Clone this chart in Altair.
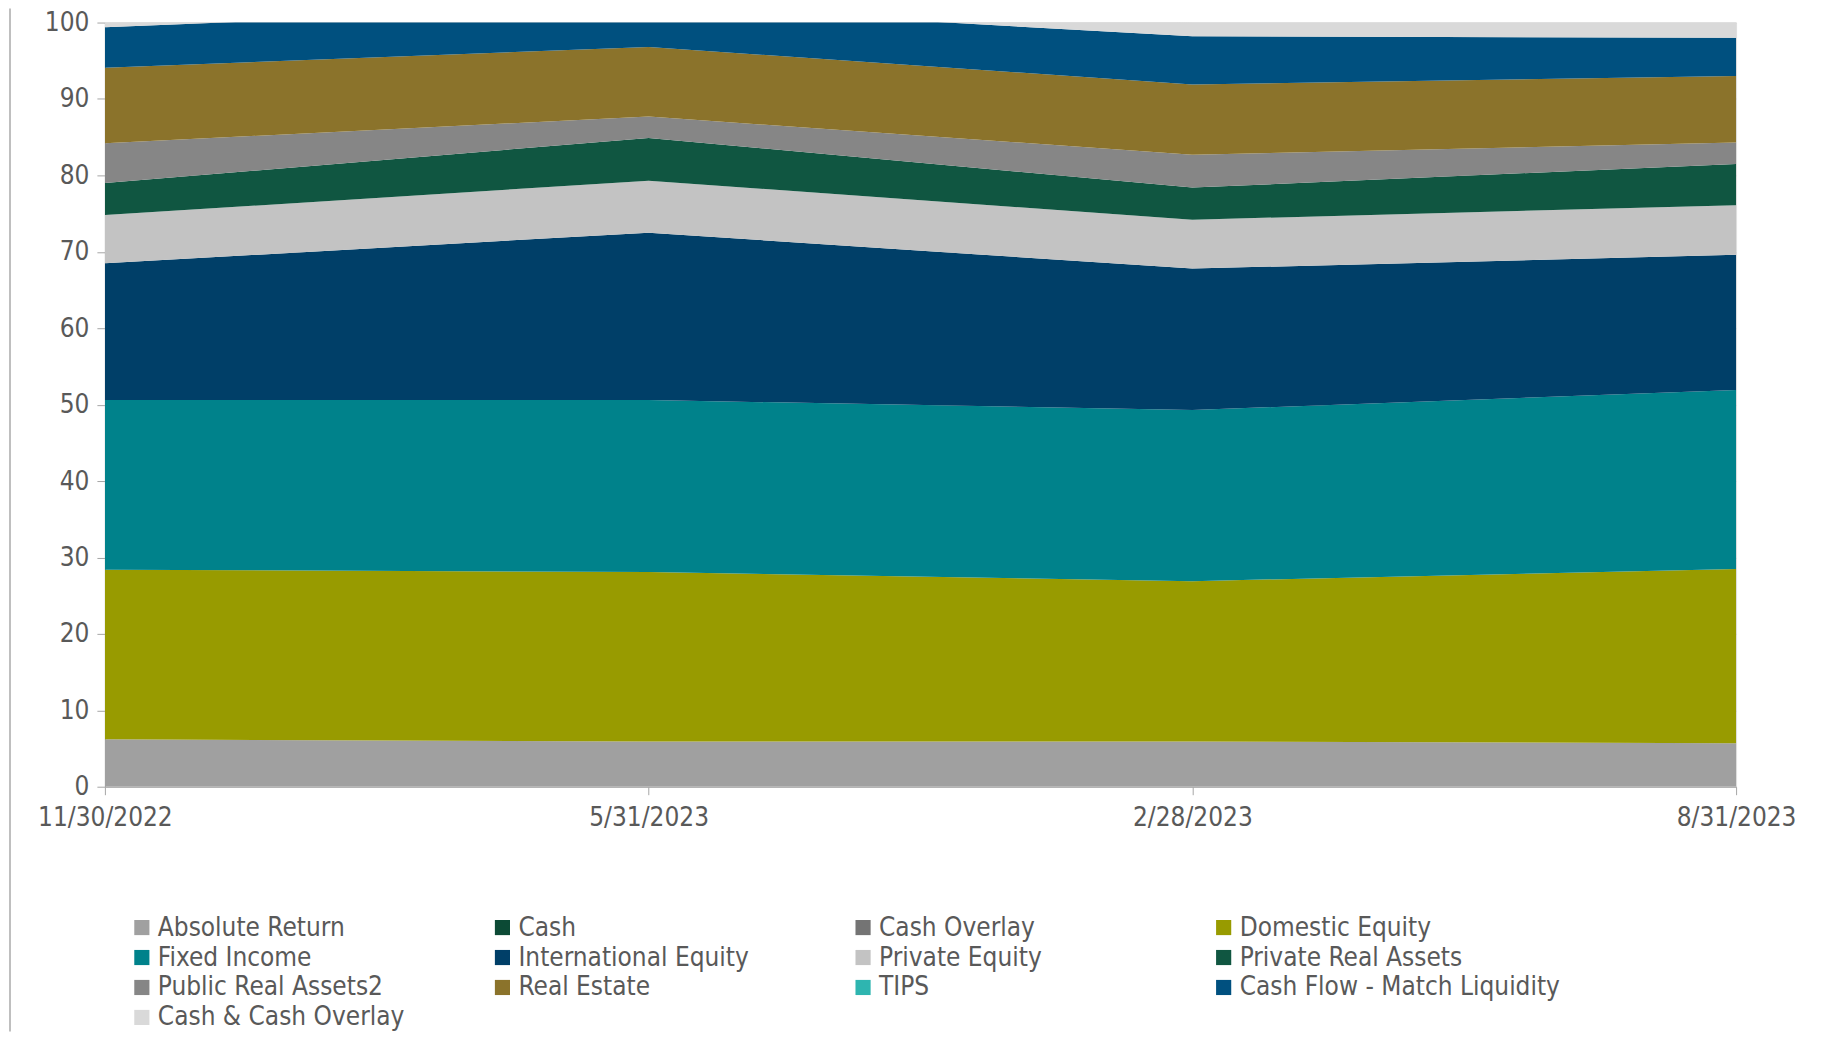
import altair as alt
import pandas as pd

dates = ["11/30/2022", "5/31/2023", "2/28/2023", "8/31/2023"]

series_names = [
    "Absolute Return", "Cash", "Cash Overlay", "Domestic Equity",
    "Fixed Income", "International Equity", "Private Equity",
    "Private Real Assets", "Public Real Assets2", "Real Estate",
    "TIPS", "Cash Flow - Match Liquidity", "Cash & Cash Overlay",
]
series_colors = [
    "#A0A0A0", "#0C4A35", "#747474", "#989B00",
    "#00828B", "#003F68", "#C3C3C3",
    "#105641", "#868686", "#8B732B",
    "#2EB5B0", "#00507F", "#D9D9D9",
]

absolute_return = [6.2, 5.9, 5.9, 5.7]
cash = [0.0, 0.0, 0.0, 0.0]
cash_overlay = [0.0, 0.0, 0.0, 0.0]
domestic_equity = [22.2, 22.2, 21.0, 22.8]
fixed_income = [22.2, 22.5, 22.4, 23.4]
international_equity = [17.9, 21.9, 18.5, 17.7]
private_equity = [6.3, 6.8, 6.4, 6.5]
private_real_assets = [4.2, 5.6, 4.2, 5.4]
public_real_assets2 = [5.2, 2.8, 4.3, 2.8]
real_estate = [9.9, 9.1, 9.2, 8.7]
tips = [0.0, 0.0, 0.0, 0.0]
cash_flow_match = [5.3, 5.4, 6.3, 5.0]
cash_and_overlay = [0.6, 0.0, 1.8, 2.0]

series_values = [
    absolute_return, cash, cash_overlay, domestic_equity, fixed_income,
    international_equity, private_equity, private_real_assets,
    public_real_assets2, real_estate, tips, cash_flow_match, cash_and_overlay,
]

rows = []
for i, (name, vals) in enumerate(zip(series_names, series_values)):
    for d, v in zip(dates, vals):
        rows.append({"date": d, "series": name, "value": v, "idx": i})
df = pd.DataFrame(rows)

FONT = "Liberation Sans Narrow, Arial Narrow, DejaVu Sans Condensed, sans-serif"
TXT = "#595959"
AX = "#A6A6A6"
FS = 26

W = 1633
H = 765

areas = alt.Chart(df).mark_area(clip=True).encode(
    x=alt.X("date:N", sort=dates, scale=alt.Scale(type="point", padding=0),
            axis=alt.Axis(title=None, labelAngle=0, labelFont=FONT, labelFontSize=FS,
                          labelColor=TXT, domainColor=AX, tickColor=AX, tickSize=8,
                          labelPadding=10, grid=False)),
    y=alt.Y("value:Q", stack="zero", scale=alt.Scale(domain=[0, 100], nice=False),
            axis=alt.Axis(title=None, values=list(range(0, 101, 10)), labelFont=FONT,
                          labelFontSize=FS, labelColor=TXT, domainColor=AX, tickColor=AX,
                          tickSize=8, labelPadding=8, grid=True, gridColor="#D0D0D0")),
    color=alt.Color("series:N", scale=alt.Scale(domain=series_names, range=series_colors),
                    legend=alt.Legend(title=None, orient="none", legendX=24, legendY=893,
                                      direction="horizontal", columns=4, gridAlign="all",
                                      columnPadding=11, rowPadding=4, symbolType="square",
                                      symbolSize=230, symbolStrokeWidth=0, labelFont=FONT,
                                      labelFontSize=FS, labelColor=TXT, labelOffset=3,
                                      labelLimit=400)),
    order=alt.Order("idx:Q", sort="ascending"),
)

border = alt.Chart(alt.Data(values=[{"a": 1}])).mark_rule(color="#BFBFBF", strokeWidth=2).encode(
    x=alt.value(-95), y=alt.value(-14), y2=alt.value(H + 245),
)

chart = alt.layer(areas, border).properties(
    width=W, height=H,
    autosize=alt.AutoSizeParams(type="none"),
    padding={"left": 97, "top": 14, "right": 80, "bottom": 245},
).configure_view(stroke=None).configure(background="white")

chart.save("out.html", embed_options={"renderer": "svg", "actions": False})
